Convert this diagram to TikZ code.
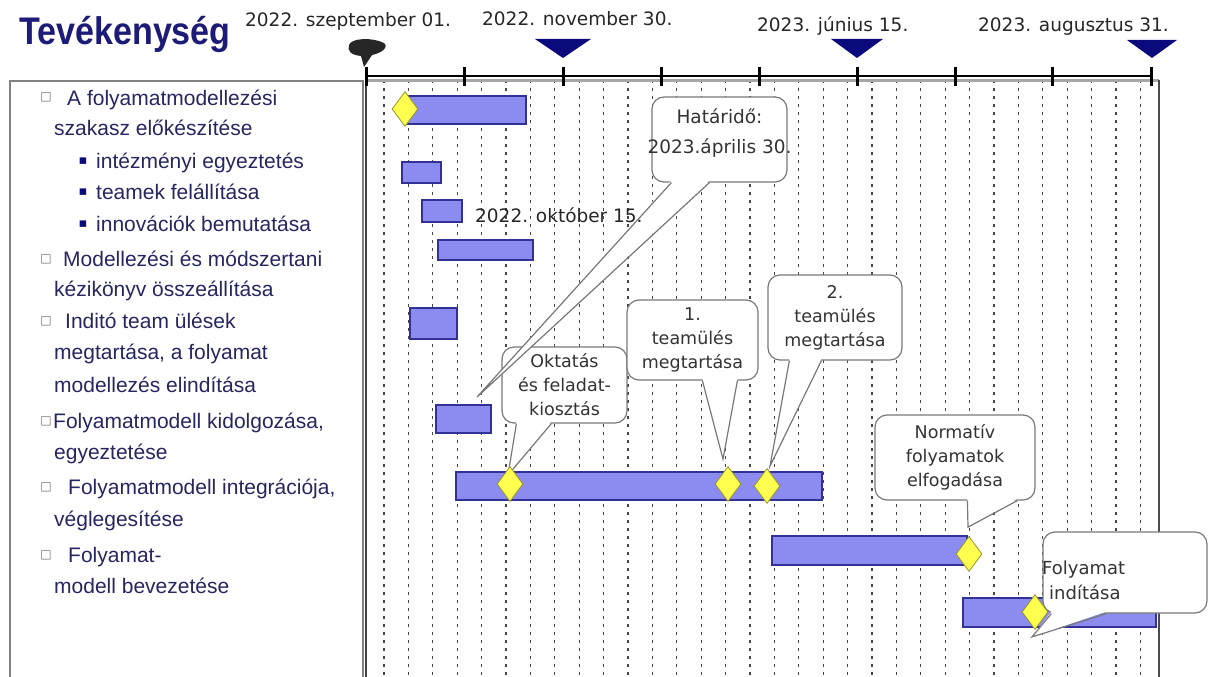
\documentclass[tikz,border=0pt]{standalone}
\usepackage{fontspec}
\usepackage{graphicx}
\setmainfont{Liberation Sans}
\newfontfamily\dvs{DejaVu Sans}
\usetikzlibrary{shapes.geometric,calc}
\definecolor{navyT}{RGB}{28,28,120}
\definecolor{txtL}{RGB}{38,38,96}
\definecolor{barF}{RGB}{140,140,240}
\definecolor{barD}{RGB}{50,50,150}
\definecolor{diaF}{RGB}{255,255,80}
\definecolor{diaD}{RGB}{150,150,40}
\definecolor{triC}{RGB}{10,10,125}
\definecolor{gridC}{RGB}{70,70,70}
\definecolor{callD}{RGB}{120,120,120}
\definecolor{panelD}{RGB}{130,130,130}
\newcommand{\callptr}[3]{%
  \fill[white] ($(#1)+(0,-2)$) -- (#3) -- ($(#2)+(0,-2)$) -- cycle;
  \draw[callline] (#1) -- (#3) -- (#2);}
\begin{document}
\begin{tikzpicture}[x=1pt,y=-1pt,
  lefttxt/.style={anchor=base west, inner sep=0, text=txtL, font=\fontsize{21}{24}\selectfont},
  sqbul/.style={inner sep=0, text=black!55, font=\dvs\fontsize{12}{12}\selectfont},
  blbul/.style={inner sep=0, text=triC, font=\dvs\fontsize{13}{13}\selectfont},
  datetxt/.style={anchor=base west, inner sep=0, text=black!85, font=\dvs\fontsize{18.5}{22}\selectfont},
  cbox/.style={draw=callD, fill=white, line width=1.2pt, rounded corners=12pt, inner sep=0, align=center, text=black!80, font=\dvs\fontsize{17.5}{24}\selectfont},
  ctxt/.style={inner sep=0, text=black!80, font=\dvs\fontsize{17.5}{24}\selectfont},
  callline/.style={draw=callD, line width=1.2pt},
  bar/.style={fill=barF, draw=barD, line width=1.2pt},
  diam/.style={diamond, fill=diaF, draw=diaD, line width=0.8pt, inner sep=0, minimum width=26pt, minimum height=35pt},
  gridl/.style={draw=gridC, line width=1.2pt, dash pattern=on 3pt off 5pt},
  tick/.style={line width=3pt}
]
\useasboundingbox (0,0) rectangle (1213,677);
\fill[white] (0,0) rectangle (1213,677);

% title
\node[anchor=base west, inner sep=0, text=navyT, font=\bfseries\fontsize{38.5}{40}\selectfont] (title) at (19,45) {\scalebox{0.885}[1]{Tevékenység}};

% date labels
\node[datetxt] (dt1) at (245,27) {2022. szeptember 01.};
\node[datetxt] (dt2) at (482,26) {2022. november 30.};
\node[datetxt] (dt3) at (757,32) {2023. június 15.};
\node[datetxt] (dt4) at (978,32) {2023. augusztus 31.};

% milestone markers
\fill[black!85] (349,45) .. controls (351,38) and (372,37) .. (384,43)
  .. controls (389,47) and (382,53) .. (372,55) -- (364,67) -- (361,56)
  .. controls (351,55) and (347,51) .. (349,45) -- cycle;
\fill[triC] (535,39) -- (591,39) -- (563,58) -- cycle;
\fill[triC] (831,39) -- (883,39) -- (857,58) -- cycle;
\fill[triC] (1127,40) -- (1177,40) -- (1152,58) -- cycle;

% left panel
\draw[panelD, line width=1.5pt] (10,677) -- (10,81) -- (363,81) -- (363,677);

% chart grid
\foreach \i in {0,...,31} \draw[gridl] ({384+24.4*\i},80) -- ({384+24.4*\i},677);
\draw[black!35, line width=3pt] (366,80.5) -- (1159,80.5);
\draw[black!75, line width=1.5pt] (366,77) -- (366,677);
\draw[black!70, line width=1.5pt] (1159,80) -- (1159,677);
\draw[line width=2.5pt] (366,76) -- (1151,76);
\foreach \x in {366,464,563,661,759,857,955,1052,1151} \draw[tick] (\x,67) -- (\x,86);

% left list
\node[sqbul] (s1) at (46,97) {□};
\node[lefttxt] (l1) at (67,106) {A folyamatmodellezési};
\node[lefttxt] (l2) at (54,135) {szakasz előkészítése};
\node[blbul] (b1) at (83,161) {▪};
\node[lefttxt] (l3) at (96,168) {intézményi egyeztetés};
\node[blbul] (b2) at (83,192) {▪};
\node[lefttxt] (l4) at (96,199) {teamek felállítása};
\node[blbul] (b3) at (83,224) {▪};
\node[lefttxt] (l5) at (96,231) {innovációk bemutatása};
\node[sqbul] (s2) at (46,259) {□};
\node[lefttxt] (l6) at (63,266) {Modellezési és módszertani};
\node[lefttxt] (l7) at (54,296) {kézikönyv összeállítása};
\node[sqbul] (s3) at (46,321) {□};
\node[lefttxt] (l8) at (65,328) {Inditó team ülések};
\node[lefttxt] (l9) at (54,359) {megtartása, a folyamat};
\node[lefttxt] (l10) at (54,392) {modellezés elindítása};
\node[sqbul] (s4) at (46,421) {□};
\node[lefttxt] (l11) at (53,428) {Folyamatmodell kidolgozása,};
\node[lefttxt] (l12) at (54,459) {egyeztetése};
\node[sqbul] (s5) at (46,487) {□};
\node[lefttxt] (l13) at (68,494) {Folyamatmodell integrációja,};
\node[lefttxt] (l14) at (54,526) {véglegesítése};
\node[sqbul] (s6) at (46,555) {□};
\node[lefttxt] (l15) at (68,562) {Folyamat-};
\node[lefttxt] (l16) at (54,593) {modell bevezetése};

% bars
\draw[bar] (407,96) rectangle (526,124);
\draw[bar] (402,162) rectangle (441,183);
\draw[bar] (422,200) rectangle (462,222);
\draw[bar] (438,240) rectangle (533,260);
\draw[bar] (410,308) rectangle (457,339);
\draw[bar] (436,405) rectangle (491,433);
\draw[bar] (456,472) rectangle (822,500);
\draw[bar] (772,536) rectangle (967,565);
\draw[bar] (963,598) rectangle (1156,627);

% diamonds (positions)
\coordinate (pd1) at (405,109);
\coordinate (pd2) at (510,484);
\coordinate (pd3) at (728,484);
\coordinate (pd4) at (767,486);
\coordinate (pd5) at (969,554);
\coordinate (pd6) at (1035,612);
\path (pd1) node[diam, draw=none, fill=none] (d1) {}
      (pd2) node[diam, draw=none, fill=none] (d2) {}
      (pd3) node[diam, draw=none, fill=none] (d3) {}
      (pd4) node[diam, draw=none, fill=none] (d4) {}
      (pd5) node[diam, draw=none, fill=none] (d5) {}
      (pd6) node[diam, draw=none, fill=none] (d6) {};

% callouts
\node[cbox, minimum width=135pt, minimum height=85pt] (cHat) at (719.5,139.5) {};
\node[ctxt, align=center, font=\dvs\fontsize{18.5}{30}\selectfont] (tHat) at (719.5,133) {Határidő:\\2023.április 30.};
\node[cbox, minimum width=125pt, minimum height=76pt] (cOkt) at (564.5,385) {Oktatás\\és feladat-\\kiosztás};
\node[cbox, minimum width=131pt, minimum height=80pt] (cT1) at (692.5,340) {1.\\teamülés\\megtartása};
\node[cbox, minimum width=134pt, minimum height=85pt] (cT2) at (835,317.5) {2.\\teamülés\\megtartása};
\node[cbox, minimum width=160pt, minimum height=85pt] (cNorm) at (955,457.5) {Normatív\\folyamatok\\elfogadása};
\node[cbox, minimum width=164pt, minimum height=81pt] (cInd) at (1125,572.5) {};
\node[ctxt, align=left, anchor=west, font=\dvs\fontsize{18}{25}\selectfont] (tInd) at (1042,580.5) {Folyamat\\\hspace*{7pt}indítása};

% pointer bases and tips
\coordinate (hA) at ($(cHat.south west)+(20,0)$);
\coordinate (hB) at ($(cHat.south west)+(58,0)$);
\coordinate (hTip) at (477,397);
\coordinate (oA) at ($(cOkt.south west)+(15,0)$);
\coordinate (oB) at ($(cOkt.south west)+(50,0)$);
\coordinate (oTip) at ($(d2.center)+(-2,-9)$);
\coordinate (aA) at ($(cT1.south west)+(76,0)$);
\coordinate (aB) at ($(cT1.south west)+(111,0)$);
\coordinate (aTip) at ($(d3.north)+(-5,-7)$);
\coordinate (bA) at ($(cT2.south west)+(22,0)$);
\coordinate (bB) at ($(cT2.south west)+(54,0)$);
\coordinate (bTip) at ($(d4.north)+(3,-2)$);
\coordinate (nA) at ($(cNorm.south west)+(93,0)$);
\coordinate (nB) at ($(cNorm.south west)+(143,0)$);
\coordinate (nTip) at ($(d5.north)+(-1,-9)$);
\coordinate (iA) at ($(cInd.south west)+(9,0)$);
\coordinate (iB) at ($(cInd.south west)+(64,0)$);
\coordinate (iTip) at ($(d6.south)+(-3,7)$);

\callptr{hA}{hB}{hTip}
\callptr{oA}{oB}{oTip}
\callptr{aA}{aB}{aTip}
\callptr{bA}{bB}{bTip}
\callptr{nA}{nB}{nTip}
\callptr{iA}{iB}{iTip}

\node[datetxt] (okt) at (475,222) {2022. október 15.};

% diamonds drawn on top
\foreach \d in {d1,d2,d3,d4,d5,d6}
  \node[diam] (\d v) at (\d.center) {};
\end{tikzpicture}
\end{document}
